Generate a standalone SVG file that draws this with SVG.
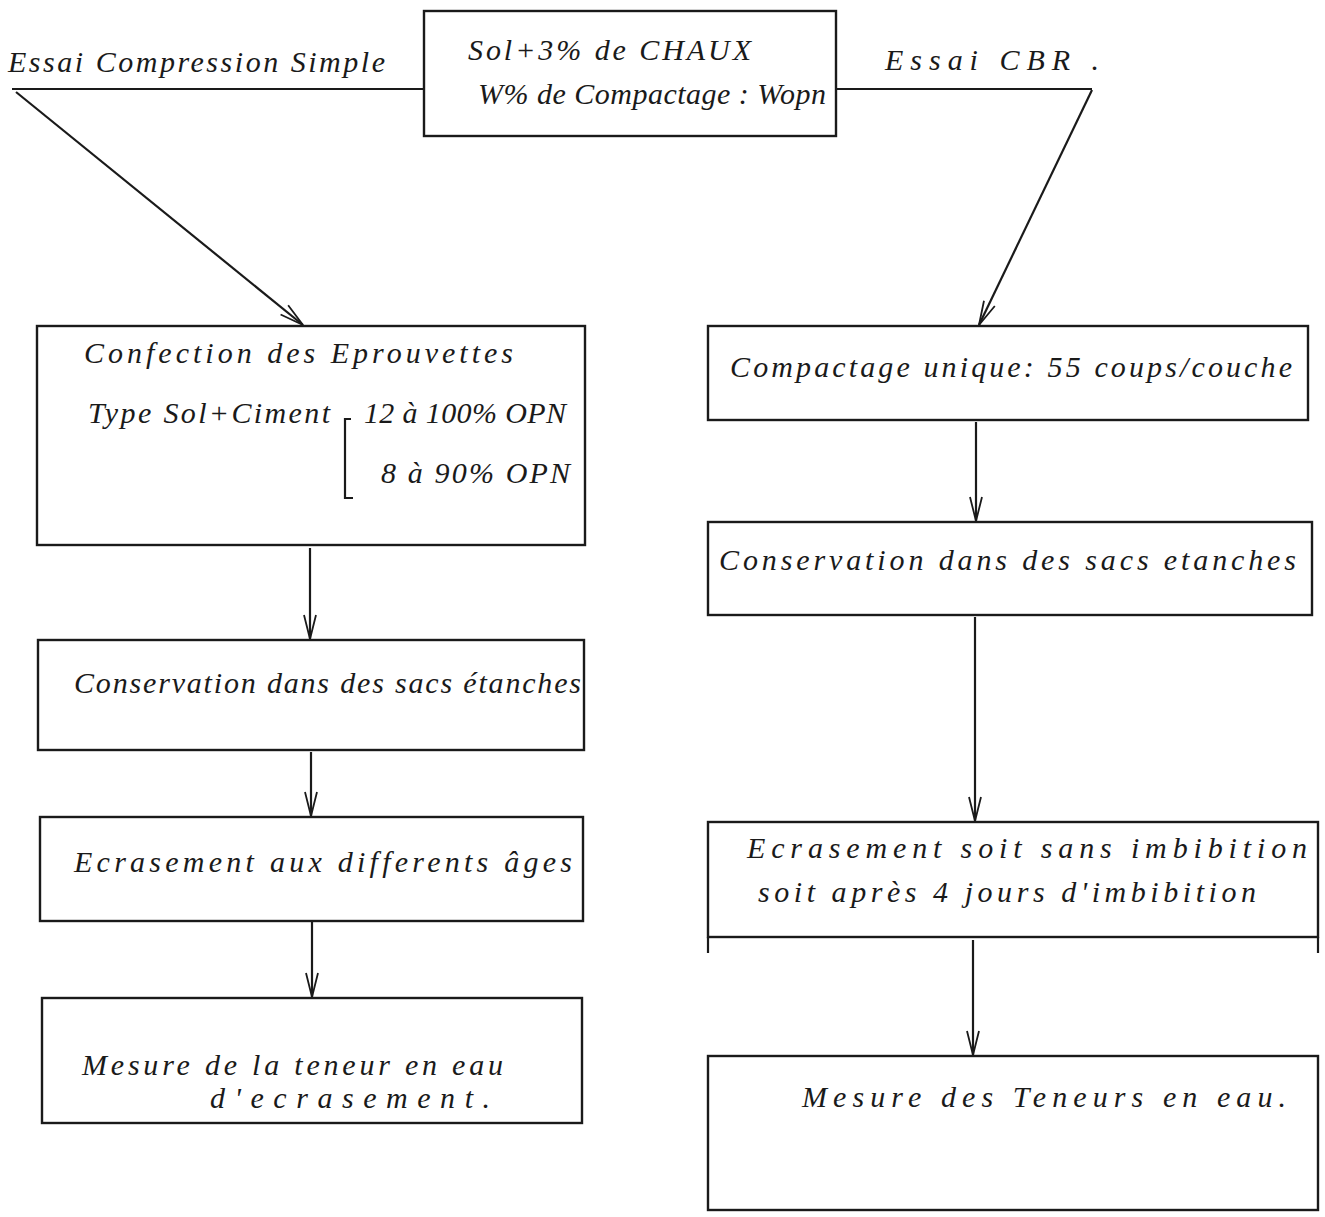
<svg xmlns="http://www.w3.org/2000/svg" width="1325" height="1217" viewBox="0 0 1325 1217">
  <style>
    .box { fill: none; stroke: #1a1a1a; stroke-width: 2.4; }
    .ln { fill: none; stroke: #1a1a1a; stroke-width: 2.2; }
    .t { font-family: "Liberation Serif", "DejaVu Serif", serif; font-style: italic; font-size: 30px; fill: #1a1a1a; }
  </style>
  <defs>
    <marker id="arr" markerUnits="userSpaceOnUse" markerWidth="30" markerHeight="20" viewBox="-26 -10 30 20" refX="0" refY="0" orient="auto">
      <path d="M-24,-6 L0,0 L-24,6" fill="none" stroke="#1a1a1a" stroke-width="1.8"/>
    </marker>
  </defs>
  <rect width="1325" height="1217" fill="#ffffff"/>

  <g id="connectors">
    <line class="ln" x1="12" y1="89" x2="424" y2="89"/>
    <text class="t" x="8" y="72" textLength="377" lengthAdjust="spacing">Essai Compression Simple</text>
    <line class="ln" x1="16" y1="92" x2="303" y2="325" marker-end="url(#arr)"/>
    <line class="ln" x1="836" y1="89" x2="1092" y2="89"/>
    <text class="t" x="885" y="70" textLength="214" lengthAdjust="spacing">Essai CBR .</text>
    <line class="ln" x1="1092" y1="90" x2="979" y2="325" marker-end="url(#arr)"/>
    <line class="ln" x1="310" y1="548" x2="310" y2="639" marker-end="url(#arr)"/>
    <line class="ln" x1="311" y1="752" x2="311" y2="816" marker-end="url(#arr)"/>
    <line class="ln" x1="312" y1="922" x2="312" y2="997" marker-end="url(#arr)"/>
    <line class="ln" x1="976" y1="422" x2="976" y2="521" marker-end="url(#arr)"/>
    <line class="ln" x1="975" y1="617" x2="975" y2="821" marker-end="url(#arr)"/>
    <line class="ln" x1="973" y1="940" x2="973" y2="1055" marker-end="url(#arr)"/>
  </g>

  <g id="node-top">
    <rect class="box" x="424" y="11" width="412" height="125"/>
    <text class="t" x="468" y="60" textLength="283" lengthAdjust="spacing">Sol+3% de CHAUX</text>
    <text class="t" x="478" y="104" textLength="348" lengthAdjust="spacing">W% de Compactage : Wopn</text>
  </g>

  <g id="node-confection">
    <rect class="box" x="37" y="326" width="548" height="219"/>
    <text class="t" x="84" y="363" textLength="429" lengthAdjust="spacing">Confection des Eprouvettes</text>
    <text class="t" x="88" y="423" textLength="242" lengthAdjust="spacing">Type Sol+Ciment</text>
    <path class="ln" d="M351,419 L345,419 L345,498 L353,498"/>
    <text class="t" x="364" y="423" textLength="202" lengthAdjust="spacing">12 à 100% OPN</text>
    <text class="t" x="381" y="483" textLength="189" lengthAdjust="spacing">8 à 90% OPN</text>
  </g>

  <g id="node-conservation-left">
    <rect class="box" x="38" y="640" width="546" height="110"/>
    <text class="t" x="74" y="693" textLength="507" lengthAdjust="spacing">Conservation dans des sacs étanches</text>
  </g>

  <g id="node-ecrasement-left">
    <rect class="box" x="40" y="817" width="543" height="104"/>
    <text class="t" x="74" y="872" textLength="498" lengthAdjust="spacing">Ecrasement aux differents âges</text>
  </g>

  <g id="node-mesure-left">
    <rect class="box" x="42" y="998" width="540" height="125"/>
    <text class="t" x="82" y="1075" textLength="421" lengthAdjust="spacing">Mesure de la teneur en eau</text>
    <text class="t" x="210" y="1108" textLength="280" lengthAdjust="spacing">d'ecrasement.</text>
  </g>

  <g id="node-compactage">
    <rect class="box" x="708" y="326" width="600" height="94"/>
    <text class="t" x="730" y="377" textLength="562" lengthAdjust="spacing">Compactage unique: 55 coups/couche</text>
  </g>

  <g id="node-conservation-right">
    <rect class="box" x="708" y="522" width="604" height="93"/>
    <text class="t" x="719" y="570" textLength="577" lengthAdjust="spacing">Conservation dans des sacs etanches</text>
  </g>

  <g id="node-ecrasement-right">
    <rect class="box" x="708" y="822" width="610" height="115"/>
    <line class="ln" x1="708" y1="937" x2="708" y2="953"/>
    <line class="ln" x1="1318" y1="937" x2="1318" y2="953"/>
    <text class="t" x="747" y="858" textLength="560" lengthAdjust="spacing">Ecrasement soit sans imbibition</text>
    <text class="t" x="758" y="902" textLength="498" lengthAdjust="spacing">soit après 4 jours d'imbibition</text>
  </g>

  <g id="node-mesure-right">
    <rect class="box" x="708" y="1056" width="610" height="154"/>
    <text class="t" x="802" y="1107" textLength="484" lengthAdjust="spacing">Mesure des Teneurs en eau.</text>
  </g>
</svg>
